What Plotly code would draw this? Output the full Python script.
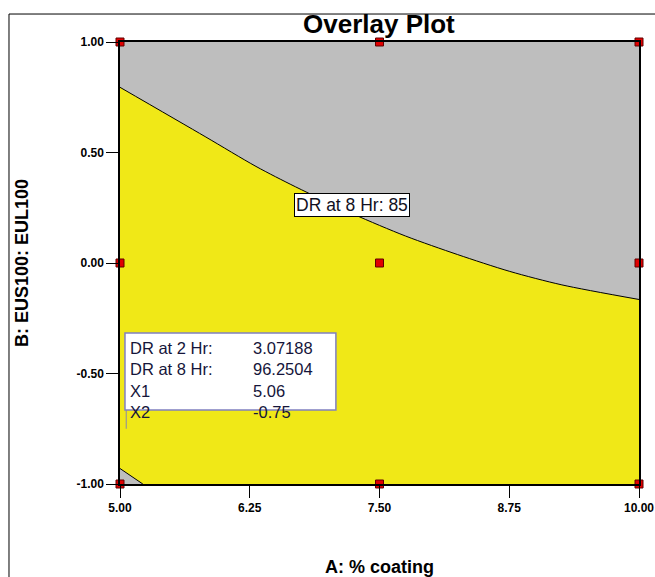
import plotly.graph_objects as go

# ---- data ----
# DR at 8 Hr = 85 contour (upper boundary of yellow region)
contour85_x = [5.0, 5.82, 6.31, 6.69, 7.249, 7.751, 8.253, 8.755, 9.257, 10.0]
contour85_y = [0.795, 0.572, 0.437, 0.345, 0.221, 0.122, 0.038, -0.038, -0.099, -0.165]
# small lower-left excluded region (DR at 2 Hr constraint)
corner_x = [5.0, 5.22]
corner_y = [-0.93, -1.0]
# design points
design_x = [5.0, 7.5, 10.0, 5.0, 7.5, 10.0, 5.0, 7.5, 10.0]
design_y = [1.0, 1.0, 1.0, 0.0, 0.0, 0.0, -1.0, -1.0, -1.0]
# axis ticks
x_ticks = [5.0, 6.25, 7.5, 8.75, 10.0]
x_tick_labels = ["5.00", "6.25", "7.50", "8.75", "10.00"]
y_ticks = [-1.0, -0.5, 0.0, 0.5, 1.0]
y_tick_labels = ["-1.00", "-0.50", "0.00", "0.50", "1.00"]
# flag
flag_names = ["DR at 2 Hr:", "DR at 8 Hr:", "X1", "X2"]
flag_values = ["3.07188", "96.2504", "5.06", "-0.75"]
flag_x1 = 5.06
flag_x2 = -0.75
contour_label = "DR at 8 Hr: 85"

XMIN, XMAX = 5.0, 10.0
YMIN, YMAX = -1.0, 1.0

YELLOW = "#F0E817"
GRAY = "#BEBEBE"
FONT = "Liberation Sans, Arial"

fig = go.Figure()

# gray region above contour: top edge, then curve filled to it
fig.add_trace(go.Scatter(
    x=contour85_x, y=[YMAX] * len(contour85_x), mode="lines",
    line=dict(width=0, color=GRAY), hoverinfo="skip", showlegend=False))
fig.add_trace(go.Scatter(
    x=contour85_x, y=contour85_y, mode="lines", fill="tonexty", fillcolor=GRAY,
    line=dict(color="black", width=1, shape="spline", smoothing=0.8),
    hoverinfo="skip", showlegend=False))
# lower-left corner region
fig.add_trace(go.Scatter(
    x=corner_x + [XMIN], y=corner_y + [YMIN],
    fill="toself", fillcolor=GRAY, mode="none", hoverinfo="skip", showlegend=False))
fig.add_trace(go.Scatter(
    x=corner_x, y=corner_y, mode="lines",
    line=dict(color="black", width=1), hoverinfo="skip", showlegend=False))

# design points
fig.add_trace(go.Scatter(
    x=design_x, y=design_y, mode="markers", cliponaxis=False,
    marker=dict(symbol="square", size=8, color="#E00000",
                line=dict(color="#600000", width=1)),
    showlegend=False))

# contour label
fig.add_annotation(x=7.235, y=0.262, xref="x", yref="y", text=contour_label,
                   showarrow=False, bgcolor="white", bordercolor="black",
                   borderwidth=1, borderpad=1,
                   font=dict(family="Liberation Sans, Arial", size=17.5, color="#111122"))

# flag box
box_left, box_right, box_top, box_bottom = 5.048, 7.08, -0.317, -0.665
fig.add_shape(type="line", x0=flag_x1, x1=flag_x1, y0=flag_x2, y1=box_top,
              xref="x", yref="y", line=dict(color="#8888aa", width=1))
fig.add_shape(type="rect", x0=box_left, x1=box_right, y0=box_bottom, y1=box_top,
              xref="x", yref="y", fillcolor="white",
              line=dict(color="#8080C0", width=1.5))
fig.add_annotation(x=box_left + 0.03, y=box_top - 0.02, xref="x", yref="y",
                   xanchor="left", yanchor="top", align="left", showarrow=False,
                   text="<br>".join(flag_names),
                   font=dict(family="Liberation Sans, Arial", size=16.5, color="#15153a"))
fig.add_annotation(x=6.26, y=box_top - 0.02, xref="x", yref="y",
                   xanchor="left", yanchor="top", align="left", showarrow=False,
                   text="<br>".join(flag_values),
                   font=dict(family="Liberation Sans, Arial", size=16.5, color="#15153a"))

# outer frame
fig.add_shape(type="rect", xref="paper", yref="paper",
              x0=-0.2139, x1=1.05, y0=-0.25, y1=1.0633,
              line=dict(color="black", width=1), fillcolor="rgba(0,0,0,0)", layer="below")

fig.update_layout(
    width=655, height=577,
    margin=dict(l=120, r=16, t=42, b=93, autoexpand=False),
    paper_bgcolor="white", plot_bgcolor=YELLOW,
    title=dict(text="<b>Overlay Plot</b>", x=0.5785, xanchor="center",
               y=0.958, yanchor="middle",
               font=dict(family=FONT, size=26, color="black")),
    xaxis=dict(range=[XMIN, XMAX], tickvals=x_ticks, ticktext=[f"<b>{t}</b>" for t in x_tick_labels],
               ticks="outside", ticklen=12, tickcolor="black", tickwidth=1,
               showgrid=False, zeroline=False, showline=True, linecolor="black", linewidth=1.5,
               mirror=True, automargin=False,
               tickfont=dict(family=FONT, size=12, color="black"),
               title=dict(text="<b>A: % coating</b>", standoff=60,
                          font=dict(family=FONT, size=18, color="black"))),
    yaxis=dict(range=[YMIN, YMAX], tickvals=y_ticks, ticktext=[f"<b>{t}</b>" for t in y_tick_labels],
               ticks="outside", ticklen=12, tickcolor="black", tickwidth=1,
               showgrid=False, zeroline=False, showline=True, linecolor="black", linewidth=1.5,
               mirror=True, automargin=False,
               tickfont=dict(family=FONT, size=12, color="black"),
               title=dict(text="<b>B: EUS100: EUL100</b>", standoff=43,
                          font=dict(family=FONT, size=18, color="black"))),
)

fig.write_html("out.html")
